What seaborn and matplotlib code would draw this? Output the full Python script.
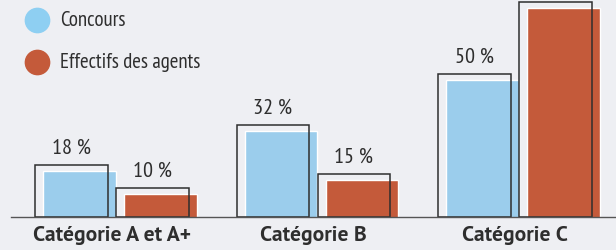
import matplotlib
matplotlib.use("Agg")
import matplotlib.pyplot as plt
import matplotlib.transforms as mtransforms
from matplotlib.lines import Line2D
from matplotlib.patches import Rectangle
import pandas as pd
import seaborn as sns

categories = ["Catégorie A et A+", "Catégorie B", "Catégorie C"]
series = ["Concours", "Effectifs des agents"]
concours = [18, 32, 50]
effectifs = [10, 15, 75]
value_labels = {
    "Concours": ["18 %", "32 %", "50 %"],
    "Effectifs des agents": ["10 %", "15 %", ""],
}

BG = "#eeeff3"
BLUE = "#9bcdec"
RED = "#c45a3a"
LEGEND_BLUE = "#8ecff2"
DARK = "#2e2e2e"

df = pd.DataFrame({
    "cat": categories * 2,
    "serie": [series[0]] * 3 + [series[1]] * 3,
    "value": concours + effectifs,
})

sns.set_style("white")
plt.rcParams["font.family"] = ["PT Sans Narrow", "DejaVu Sans"]

fig = plt.figure(figsize=(6.16, 2.51), dpi=100, facecolor=BG)
ax = fig.add_axes([11 / 616, 33 / 251, 605 / 616, 218 / 251])
ax.set_facecolor(BG)

sns.barplot(
    data=df, x="cat", y="value", hue="serie", hue_order=series,
    palette=[BLUE, RED], width=0.803, gap=0.099, saturation=1,
    legend=False, ax=ax, zorder=1,
)

# value labels above the outline boxes
for container, name in zip(ax.containers, series):
    ax.bar_label(container, labels=value_labels[name], padding=6,
                 fontsize=16, color=DARK)

# outline box at the true value, filled bar shifted right / down
shift = mtransforms.ScaledTranslation(8 / 100, -6 / 100, fig.dpi_scale_trans)
for patch in list(ax.patches):
    x, y = patch.get_xy()
    ax.add_patch(Rectangle((x, y), patch.get_width(), patch.get_height(),
                           fill=False, edgecolor=DARK, linewidth=1.1, zorder=2))
    patch.set_transform(ax.transData + shift)

ax.set_xlim(-0.5, 2.5)
ax.set_ylim(0, 76.1)
ax.set_yticks([])
ax.set_xlabel("")
ax.set_ylabel("")
for side in ["top", "right", "left"]:
    ax.spines[side].set_visible(False)
ax.spines["bottom"].set_color("#555555")
ax.spines["bottom"].set_linewidth(1.0)
ax.set_xticks([-0.5, 0.5, 1.5, 2.5], minor=True)
ax.tick_params(axis="x", which="minor", direction="in", length=5,
               width=1.0, color="#555555")
ax.tick_params(axis="x", which="major", length=0, pad=6)
ax.set_xticklabels(categories, fontsize=15.5, fontweight="bold", color=DARK,
                   family=["PT Sans", "DejaVu Sans"])

# legend
for i, (name, col) in enumerate(zip(series, [LEGEND_BLUE, RED])):
    yf = 1 - (21 + 42 * i) / 251
    fig.add_artist(Line2D([37 / 616], [yf], marker="o", markersize=17.5,
                          color=col, linestyle="none",
                          transform=fig.transFigure))
    fig.text(60 / 616, yf, name, fontsize=15, color=DARK, va="center")

fig.savefig("out.png", dpi=100, facecolor=BG)
